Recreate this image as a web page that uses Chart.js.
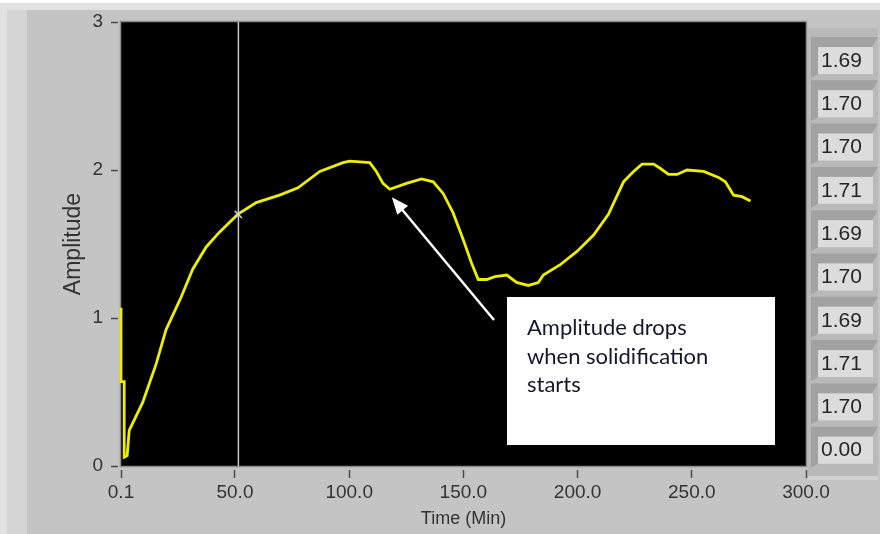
<!DOCTYPE html>
<html>
<head>
<meta charset="utf-8">
<script src="https://cdn.jsdelivr.net/npm/chart.js@4.4.1/dist/chart.umd.min.js"></script>
<style>
    html, body { margin: 0; padding: 0; background: #ffffff; }
    #wrap { position: relative; width: 883px; height: 534px; }
</style>
</head>
<body>
<div id="wrap"><canvas id="graph" width="883" height="534"></canvas></div>
<script>
// Amplitude trace (time in minutes)
const timeMin = [0.1, 0.1, 1.5, 1.5, 2.8, 3.7, 9.6, 15.5, 19.8, 26.4, 31.5, 37.4, 43.2, 51.2, 59.3, 69.5, 77.6, 87.1, 97.3, 100.2,
    109.0, 111.9, 114.8, 117.8, 125.1, 131.7, 136.8, 141.2, 145.5, 149.9, 153.6, 156.5, 160.2, 163.8, 169.0, 173.3, 178.4, 182.8,
    185.0, 192.4, 199.7, 207.0, 213.5, 220.1, 224.5, 228.2, 233.3, 236.3, 239.8, 243.5, 247.9, 255.2, 261.7, 264.7, 268.3, 272.0, 275.7];
const amplitude = [1.07, 0.57, 0.57, 0.06, 0.07, 0.24, 0.43, 0.69, 0.92, 1.14, 1.33, 1.48, 1.58, 1.70, 1.78, 1.83, 1.88, 1.99, 2.05, 2.06,
    2.05, 1.99, 1.91, 1.87, 1.91, 1.94, 1.92, 1.84, 1.71, 1.53, 1.37, 1.26, 1.26, 1.28, 1.29, 1.24, 1.22, 1.24,
    1.29, 1.36, 1.45, 1.56, 1.70, 1.92, 1.99, 2.04, 2.04, 2.01, 1.97, 1.97, 2.00, 1.99, 1.95, 1.92, 1.83, 1.82, 1.79];

// cursor position
const cursorTime = 51.5;
const cursorValue = 1.70;

const xTickValues = [0.1, 50, 100, 150, 200, 250, 300];
const xTickLabels = ['0.1', '50.0', '100.0', '150.0', '200.0', '250.0', '300.0'];
const yTickValues = [0, 1, 2, 3];
const yTickLabels = ['0', '1', '2', '3'];

// numeric readouts on the right
const readoutValues = ['1.69', '1.70', '1.70', '1.71', '1.69', '1.70', '1.69', '1.71', '1.70', '0.00'];

const noteLines = ['Amplitude drops', 'when solidification', 'starts'];
const notePoint = { x: 117.8, y: 1.87 };

const FONT = '"Liberation Sans", Arial, sans-serif';

// panel, plot background, readouts
const panelPlugin = {
    id: 'panel',
    beforeDraw(chart) {
        const ctx = chart.ctx;
        const a = chart.chartArea;
        ctx.save();
        ctx.fillStyle = '#ffffff';
        ctx.fillRect(0, 0, 883, 534);
        ctx.fillStyle = '#e2e2e2';
        ctx.fillRect(0, 3, 880, 531);
        ctx.fillStyle = '#d5d5d5';
        ctx.fillRect(7, 10, 873, 524);
        ctx.fillStyle = '#c4c4c4';
        ctx.fillRect(27, 10, 853, 524);
        // readout column
        ctx.fillStyle = '#b9b9b9';
        ctx.fillRect(a.right + 2, 28, 70, 448);
        ctx.fillStyle = '#d0d0d0';
        ctx.fillRect(a.right + 2, 476, 70, 4);
        // plot area
        ctx.fillStyle = '#000000';
        ctx.fillRect(a.left, a.top, a.right - a.left, a.bottom - a.top);
        ctx.restore();
    },
    beforeDatasetsDraw(chart) {
        const ctx = chart.ctx;
        const a = chart.chartArea;
        ctx.save();
        ctx.strokeStyle = '#8c8c8c';
        ctx.lineWidth = 1.5;
        ctx.strokeRect(a.left - 0.5, a.top - 0.5, a.right - a.left + 1, a.bottom - a.top + 1);
        ctx.restore();
    },
    afterDraw(chart) {
        const ctx = chart.ctx;
        ctx.save();
        readoutValues.forEach((v, i) => {
            const top = 47 + i * 43.3;
            const x = 818;
            ctx.fillStyle = '#a2a2a2';
            ctx.beginPath();
            ctx.moveTo(x - 7, top - 10);
            ctx.lineTo(x + 60, top - 10);
            ctx.lineTo(x + 54, top);
            ctx.lineTo(x, top);
            ctx.lineTo(x, top + 27);
            ctx.lineTo(x - 7, top + 31);
            ctx.closePath();
            ctx.fill();
            ctx.fillStyle = '#dcdcdc';
            ctx.fillRect(x, top, 55, 27);
            ctx.fillStyle = '#262626';
            ctx.font = '21px ' + FONT;
            ctx.textBaseline = 'middle';
            ctx.textAlign = 'left';
            ctx.fillText(v, x + 3, top + 14);
        });

        // annotation box + arrow
        const bx = 507, by = 297, bw = 268, bh = 148;
        ctx.fillStyle = '#ffffff';
        ctx.fillRect(bx, by, bw, bh);
        ctx.fillStyle = '#16162a';
        ctx.font = '22px Lato, "Open Sans", sans-serif';
        ctx.textBaseline = 'middle';
        noteLines.forEach((t, i) => ctx.fillText(t, bx + 20, by + 31 + i * 28.5));

        const tx = chart.scales.x.getPixelForValue(notePoint.x) + 2;
        const ty = chart.scales.y.getPixelForValue(notePoint.y) + 8;
        const sx = 494, sy = 320;
        const ang = Math.atan2(ty - sy, tx - sx);
        ctx.strokeStyle = '#ffffff';
        ctx.lineWidth = 2.5;
        ctx.beginPath();
        ctx.moveTo(sx, sy);
        ctx.lineTo(tx - 12 * Math.cos(ang), ty - 12 * Math.sin(ang));
        ctx.stroke();
        ctx.fillStyle = '#ffffff';
        ctx.beginPath();
        ctx.moveTo(tx, ty);
        ctx.lineTo(tx - 17 * Math.cos(ang) + 7 * Math.sin(ang), ty - 17 * Math.sin(ang) - 7 * Math.cos(ang));
        ctx.lineTo(tx - 17 * Math.cos(ang) - 7 * Math.sin(ang), ty - 17 * Math.sin(ang) + 7 * Math.cos(ang));
        ctx.closePath();
        ctx.fill();
        ctx.restore();
    }
};

const ctx = document.getElementById('graph').getContext('2d');
new Chart(ctx, {
    type: 'line',
    data: {
        datasets: [
            {
                // cursor marker
                data: [{ x: cursorTime, y: cursorValue }],
                showLine: false,
                pointStyle: 'crossRot',
                pointRadius: 5,
                borderColor: '#d0d0d0',
                borderWidth: 1.5,
                order: 0
            },
            {
                data: timeMin.map((t, i) => ({ x: t, y: amplitude[i] })),
                borderColor: '#eeee00',
                borderWidth: 2.8,
                pointRadius: 0,
                tension: 0,
                clip: 4,
                order: 1
            },
            {
                // cursor line
                data: [{ x: cursorTime, y: 0 }, { x: cursorTime, y: 3 }],
                borderColor: '#c8c8c8',
                borderWidth: 1.5,
                pointRadius: 0,
                order: 2
            }
        ]
    },
    options: {
        responsive: false,
        animation: false,
        events: [],
        layout: { padding: { left: 0, right: 77, top: 22, bottom: 0 } },
        plugins: {
            legend: { display: false },
            tooltip: { enabled: false }
        },
        scales: {
            x: {
                type: 'linear',
                min: 0.1,
                max: 300,
                afterBuildTicks: (scale) => { scale.ticks = xTickValues.map(v => ({ value: v })); },
                afterFit: (scale) => { scale.height = 68; },
                ticks: {
                    autoSkip: false,
                    maxRotation: 0,
                    padding: 3,
                    color: '#333333',
                    font: { family: FONT, size: 19 },
                    callback: (v) => xTickLabels[xTickValues.indexOf(v)]
                },
                grid: {
                    drawOnChartArea: false,
                    tickLength: 12,
                    tickColor: '#4a4a4a',
                    tickWidth: 1.5,
                    tickBorderDash: [0, 4, 8, 100]
                },
                border: { display: false },
                title: {
                    display: true,
                    text: 'Time (Min)',
                    color: '#333333',
                    font: { family: FONT, size: 18 },
                    padding: { top: 0, bottom: 4 }
                }
            },
            y: {
                min: 0,
                max: 3,
                afterBuildTicks: (scale) => { scale.ticks = yTickValues.map(v => ({ value: v })); },
                afterFit: (scale) => { scale.width = 121; },
                ticks: {
                    padding: 8,
                    color: '#333333',
                    font: { family: FONT, size: 19 },
                    callback: (v) => yTickLabels[yTickValues.indexOf(v)]
                },
                grid: {
                    drawOnChartArea: false,
                    tickLength: 10,
                    tickColor: '#4a4a4a',
                    tickWidth: 1.5,
                    tickBorderDash: [7, 100]
                },
                border: { display: false },
                title: {
                    display: true,
                    text: 'Amplitude',
                    color: '#333333',
                    font: { family: FONT, size: 23 },
                    padding: { top: 60, bottom: 0 }
                }
            }
        }
    },
    plugins: [panelPlugin]
});
</script>
</body>
</html>
